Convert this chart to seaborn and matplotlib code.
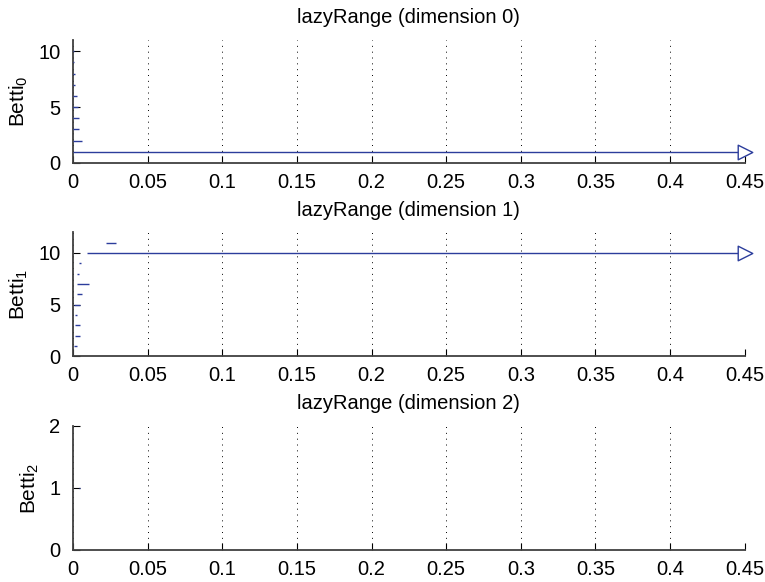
import numpy as np
import pandas as pd
import seaborn as sns
import matplotlib.pyplot as plt

# barcode intervals (np.inf = still alive at the right edge)
dim0_start = [0, 0, 0, 0, 0, 0, 0, 0, 0, 0]
dim0_end = [np.inf, 0.0058, 0.0042, 0.0042, 0.0035, 0.0024, 0.0015, 0.0013, 0.0010, 0.0006]

dim1_start = [0.0010, 0.0013, 0.0015, 0.0013, 0.0010, 0.0025, 0.0030, 0.0030, 0.0040, 0.0095, 0.0218]
dim1_end = [0.0027, 0.0045, 0.0045, 0.0030, 0.0050, 0.0058, 0.0110, 0.0040, 0.0053, np.inf, 0.0290]

dim2_start = [0.0042]
dim2_end = [0.0050]

x_max = 0.45
x_ticks = [0, 0.05, 0.1, 0.15, 0.2, 0.25, 0.3, 0.35, 0.4, 0.45]
x_labels = ['0', '0.05', '0.1', '0.15', '0.2', '0.25', '0.3', '0.35', '0.4', '0.45']
y_lims = [11, 12, 2]
y_ticks = [[0, 5, 10], [0, 5, 10], [0, 1, 2]]

sns.set_style('ticks')
plt.rcParams['font.family'] = ['Liberation Sans', 'DejaVu Sans']
plt.rcParams['mathtext.default'] = 'regular'
plt.rcParams['text.color'] = 'black'
plt.rcParams['axes.labelcolor'] = 'black'

bar_color = '#2c3d9c'

fig = plt.figure(figsize=(7.65, 5.82), dpi=100)
positions = [[0.0954, 0.720, 0.878, 0.211],
             [0.0954, 0.388, 0.878, 0.213],
             [0.0954, 0.055, 0.878, 0.2135]]

bars = [(dim0_start, dim0_end), (dim1_start, dim1_end), (dim2_start, dim2_end)]

for d, (starts, ends) in enumerate(bars):
    ax = fig.add_axes(positions[d])
    df = pd.DataFrame({'start': starts, 'end': ends})
    df['y'] = np.arange(1, len(df) + 1)
    df['inf'] = np.isinf(df['end'])
    df['end'] = df['end'].clip(upper=x_max)

    ax.hlines(df['y'], df['start'], df['end'], color=bar_color, lw=1.0, zorder=3)
    arrows = df[df['inf']]
    if len(arrows):
        sns.scatterplot(x=arrows['end'], y=arrows['y'], marker='>', s=110,
                        facecolor='white', edgecolor=bar_color, linewidth=1.0,
                        ax=ax, zorder=4, clip_on=False, legend=False)

    ax.set_xlim(0, x_max)
    ax.set_ylim(0, y_lims[d])
    ax.set_xticks(x_ticks)
    ax.set_xticklabels(x_labels)
    ax.set_yticks(y_ticks[d])
    ax.set_xlabel('')
    ax.set_ylabel('Betti$_{%d}$' % d, fontsize=15, labelpad=6, color='black')
    ax.set_title('lazyRange (dimension %d)' % d, fontsize=14.5, pad=12, color='black')
    ax.grid(axis='x', color='black', linestyle=(0, (1, 5)), linewidth=0.7)
    ax.tick_params(direction='in', length=5, width=0.8, labelsize=14.5, pad=7, colors='black')
    ax.tick_params(axis='y', pad=9)
    sns.despine(ax=ax)
    for side in ['left', 'bottom']:
        ax.spines[side].set_color('#404040')
        ax.spines[side].set_linewidth(1.3)

fig.savefig('out.png', dpi=100)
